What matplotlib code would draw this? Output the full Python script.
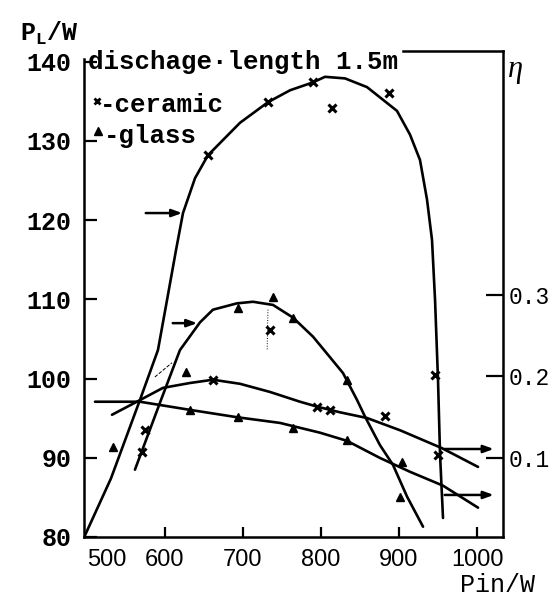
import matplotlib
matplotlib.use("Agg")
import matplotlib.pyplot as plt

plt.rcParams['mathtext.fontset'] = 'custom'
plt.rcParams['mathtext.rm'] = 'Liberation Mono:bold'
plt.rcParams['mathtext.it'] = 'Liberation Mono:bold'

MONO = 'Liberation Mono'
SANS = 'Liberation Sans'

# ---- data ----
# ceramic, output power P_L (W) vs input power Pin (W)
cer_pl_curve_x = [496.5, 530.8, 567.9, 591.0, 602.6, 614.1, 623.1, 638.5, 655.1, 696.2, 732.1,
                  760.3, 789.7, 805.1, 830.8, 859.0, 897.4, 914.1, 926.9, 935.9, 942.3,
                  946.2, 950.0, 952.6, 956.4]
cer_pl_curve_y = [80.0, 87.4, 97.3, 103.6, 109.9, 116.2, 120.9, 125.3, 128.2, 132.3, 134.9,
                  136.4, 137.4, 138.1, 137.9, 136.8, 133.8, 130.8, 127.6, 122.6, 117.5,
                  109.9, 99.8, 90.4, 82.4]
# glass, output power
gla_pl_curve_x = [561.5, 594.9, 619.2, 644.9, 661.5, 692.3, 712.8, 738.5, 764.1, 789.7, 811.5,
                  828.2, 846.2, 856.4, 875.6, 892.3, 910.3, 930.8]
gla_pl_curve_y = [88.5, 97.3, 103.6, 107.1, 108.7, 109.5, 109.7, 109.3, 107.7, 105.3, 102.7,
                  100.7, 97.3, 95.2, 91.6, 89.1, 85.1, 81.3]
# efficiency curves (right axis)
cer_eta_curve_x = [532.1, 567.9, 597.4, 632.1, 661.5, 696.2, 734.6, 773.1, 794.9, 824.4,
                   859.0, 901.3, 955.1, 1001.3]
cer_eta_curve_y = [0.153, 0.171, 0.186, 0.192, 0.196, 0.191, 0.181, 0.169, 0.163, 0.156,
                   0.149, 0.134, 0.112, 0.089]
gla_eta_curve_x = [510.3, 567.9, 632.1, 692.3, 747.4, 798.7, 833.3, 875.6, 914.1, 956.4, 1001.3]
gla_eta_curve_y = [0.169, 0.169, 0.159, 0.150, 0.143, 0.131, 0.121, 0.100, 0.083, 0.066, 0.039]

# measured points
cer_pl_pts_x = [571, 574, 655, 732, 790, 814, 887, 946, 950, 735]
cer_pl_pts_y = [90.7, 93.5, 128.2, 134.9, 137.5, 134.2, 136.1, 100.5, 90.4, 106.1]
gla_pl_pts_x = [533, 627, 694, 738, 764, 833, 901]
gla_pl_pts_y = [91.4, 100.8, 108.9, 110.3, 107.7, 99.8, 85.1]
cer_eta_pts_x = [662, 795, 812, 882]
cer_eta_pts_y = [0.196, 0.163, 0.159, 0.152]
gla_eta_pts_x = [632, 694, 764, 833, 904]
gla_eta_pts_y = [0.159, 0.150, 0.137, 0.122, 0.095]

x_ticks = [500, 600, 700, 800, 900, 1000]
pl_ticks = [80, 90, 100, 110, 120, 130, 140]
eta_ticks = [0.1, 0.2, 0.3]
title_text = "dischage·length 1.5m"

# ---- figure ----
fig = plt.figure(figsize=(5.58, 6.01), dpi=100)
ax = fig.add_axes([84/558, 1-537/601, (503-84)/558, (537-51)/601])
ax2 = ax.twinx()

XL = (496.2, 1033.3)
ax.set_xlim(*XL)
ax.set_ylim(80, 141.36)
ax2.set_ylim(0.003, 0.5994)

lw = 1.9
ax.plot(cer_pl_curve_x, cer_pl_curve_y, color='black', lw=lw, solid_capstyle='round')
ax.plot(gla_pl_curve_x, gla_pl_curve_y, color='black', lw=lw, solid_capstyle='round')
ax2.plot(cer_eta_curve_x, cer_eta_curve_y, color='black', lw=lw, solid_capstyle='round')
ax2.plot(gla_eta_curve_x, gla_eta_curve_y, color='black', lw=lw, solid_capstyle='round')

ax.plot(cer_pl_pts_x, cer_pl_pts_y, ls='none', marker='x', ms=5.5, mew=2.2, color='black')
ax.plot(gla_pl_pts_x, gla_pl_pts_y, ls='none', marker='^', ms=6, color='black')
ax2.plot(cer_eta_pts_x, cer_eta_pts_y, ls='none', marker='x', ms=5.5, mew=2.2, color='black')
ax2.plot(gla_eta_pts_x, gla_eta_pts_y, ls='none', marker='^', ms=6, color='black')

# stray thin marks of the original
ax.plot([587, 609], [100.2, 102.0], color='black', lw=0.7, ls='--')
ax.plot([732, 731], [108.7, 103.6], color='black', lw=0.7, ls=':')

# pointer arrows
ap = dict(arrowstyle='-|>,head_length=0.6,head_width=0.22', color='black', lw=1.8)
ax.annotate('', xy=(625.6, 120.9), xytext=(571.8, 120.9), arrowprops=ap)
ax.annotate('', xy=(644.9, 107.0), xytext=(606.4, 107.0), arrowprops=ap)
ax2.annotate('', xy=(1025, 0.111), xytext=(955, 0.111), arrowprops=ap)
ax2.annotate('', xy=(1025, 0.0546), xytext=(955, 0.0546), arrowprops=ap)

# legend drawn as in the original
ax.plot([512.8], [135.05], ls='none', marker='x', ms=5, mew=2, color='black')
ax.plot([514], [131.3], ls='none', marker='^', ms=6, color='black')
ax.text(516, 134.6, '-ceramic', fontsize=18.5, family=MONO, weight='bold', va='center', ha='left')
ax.text(522, 130.6, '-glass', fontsize=18.5, family=MONO, weight='bold', va='center', ha='left')
ax.text(501, 140.0, title_text, fontsize=18.5, family=MONO, weight='bold', va='center', ha='left')

# spines
for a in (ax, ax2):
    for s in a.spines.values():
        s.set_linewidth(1.8)
ax.spines['left'].set_bounds(80, 140.3)
ax2.spines['left'].set_visible(False)
ax2.spines['bottom'].set_visible(False)
ax2.spines['top'].set_visible(False)
ax.spines['right'].set_visible(False)
ax.spines['top'].set_bounds(905.1, XL[1])

# ticks
ax.set_xticks(x_ticks)
ax.set_xticklabels([str(v) for v in x_ticks], family=SANS, fontsize=17)
ax.get_xticklabels()[0].set_horizontalalignment('left')
ax.xaxis.get_major_ticks()[0].tick1line.set_visible(False)
ax.tick_params(axis='x', direction='in', length=7, width=1.6, pad=9)

ax.set_yticks(pl_ticks)
ax.set_yticklabels([str(v) for v in pl_ticks], family=MONO, weight='bold', fontsize=18)
ax.tick_params(axis='y', direction='in', length=9, width=1.6, pad=9)

ax2.set_yticks(eta_ticks)
ax2.set_yticklabels([f"{v:.1f}" for v in eta_ticks], family=MONO, fontsize=16.5)
ax2.tick_params(axis='y', direction='in', length=12, width=1.6, pad=4)

# axis titles
fig.text(20/558, 1-33/601, r'P$_{\mathrm{L}}$/W', family=MONO, weight='bold', fontsize=18,
         va='center', ha='left')
fig.text(508/558, 1-70/601, 'η', family='Liberation Serif', style='italic', fontsize=22,
         va='center', ha='left')
fig.text(460/558, 1-585/601, 'Pin/W', family=MONO, fontsize=18, va='center', ha='left')

fig.savefig('out.png', dpi=100)
